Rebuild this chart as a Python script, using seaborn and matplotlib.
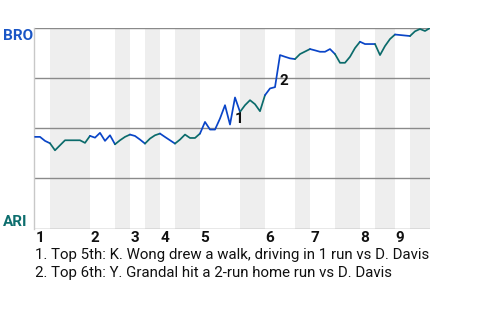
import matplotlib
matplotlib.use("Agg")
import matplotlib.pyplot as plt
import seaborn as sns
import pandas as pd
import numpy as np

# ---- data ----
# BRO win probability (%) after each plate appearance (index 0..79)
win_prob = [45.7, 45.7, 43.7, 42.5, 39.0, 41.5, 44.0, 44.0, 44.0, 44.0,
            42.7, 46.2, 45.3, 47.7, 43.7, 46.5, 42.0, 44.0, 45.7, 46.85,
            46.15, 44.35, 42.35, 44.85, 46.5, 47.35, 45.65, 44.0, 42.35, 44.35,
            46.85, 45.15, 45.15, 47.35, 53.15, 49.35, 49.35, 54.85, 61.5, 51.85,
            65.35, 58.15, 61.5, 64.0, 62.0, 58.5, 66.5, 69.85, 70.5, 86.5,
            85.65, 84.85, 84.5, 87.0, 88.25, 89.5, 88.85, 88.15, 88.15, 89.5,
            87.0, 82.65, 82.65, 85.65, 90.0, 93.15, 92.0, 92.0, 92.0, 86.5,
            91.0, 94.5, 96.75, 96.5, 96.25, 96.0, 98.35, 99.5, 98.5, 100.0]
# plate-appearance index where each half inning ends (top 1, bot 1, top 2, ...)
half_inning_ends = [3, 11, 16, 19, 22, 25, 28, 33, 41, 46, 52, 55, 60, 65, 68, 72, 75, 79]
innings = ["1", "2", "3", "4", "5", "6", "7", "8", "9"]
away_team, home_team = "BRO", "ARI"
key_events = [40, 49]
key_labels = ["1", "2"]
notes = ["1. Top 5th: K. Wong drew a walk, driving in 1 run vs D. Davis",
         "2. Top 6th: Y. Grandal hit a 2-run home run vs D. Davis"]

# ---- build table ----
rows = []
start = 0
for h, end in enumerate(half_inning_ends):
    team = away_team if h % 2 == 0 else home_team
    for i in range(start, end + 1):
        rows.append({"pa": i, "wp": win_prob[i], "half": h, "batting": team})
    start = end
df = pd.DataFrame(rows)

team_colors = {away_team: "#0a45c8", home_team: "#0b6b6b"}

sns.set_style("white")
plt.rcParams["font.family"] = ["Roboto", "DejaVu Sans"]

fig = plt.figure(figsize=(4.8, 3.2), dpi=100)
ax = fig.add_axes([34 / 480, 1 - 228.5 / 320, 396 / 480, 200.5 / 320])

# shading for bottom halves
starts = [0] + half_inning_ends[:-1]
for h, (s, e) in enumerate(zip(starts, half_inning_ends)):
    if h % 2 == 1:
        ax.axvspan(s, e, color="#eeeeee", lw=0, zorder=0)

for yv in [0, 25, 50, 75, 100]:
    ax.axhline(yv, color="#8a8a8a", lw=1.0, zorder=1)

for h, sub in df.groupby("half"):
    sns.lineplot(data=sub, x="pa", y="wp", color=team_colors[sub["batting"].iloc[0]],
                 lw=1.25, ax=ax, legend=False, zorder=3, estimator=None)

ax.set_xlim(-0.2, 79)
ax.set_ylim(0, 100)
ax.set_xticks([])
ax.set_yticks([])
ax.set_xlabel("")
ax.set_ylabel("")
for sp in ["top", "right", "bottom"]:
    ax.spines[sp].set_visible(False)
ax.spines["left"].set_color("#c8c8c8")
ax.spines["left"].set_linewidth(1.0)

# inning labels
inning_starts = [0] + [half_inning_ends[2 * k + 1] for k in range(8)]
for lab, s in zip(innings, inning_starts):
    ax.annotate(lab, xy=(s, 0), xytext=(0.3, -1.5), textcoords="offset points",
                ha="left", va="top", fontsize=11, fontweight="bold", color="#111111",
                annotation_clip=False)

# key event labels
for idx, lab in zip(key_events, key_labels):
    ax.annotate(lab, xy=(idx, win_prob[idx - 1]), xytext=(0, 1.2), textcoords="offset points",
                ha="left", va="baseline", fontsize=11, fontweight="bold", color="#111111",
                zorder=5)

# team labels
fig.text(3 / 480, 1 - 39.5 / 320, away_team, ha="left", va="baseline",
         fontsize=11, fontweight="bold", color="#1a56c6")
fig.text(3 / 480, 1 - 226.3 / 320, home_team, ha="left", va="baseline",
         fontsize=11, fontweight="bold", color="#0d6e6e")

# notes
for k, t in enumerate(notes):
    fig.text(35 / 480, 1 - (258.5 + 18.5 * k) / 320, t, ha="left", va="baseline",
             fontsize=10.85, color="#111111")

fig.savefig("out.png", dpi=100)
